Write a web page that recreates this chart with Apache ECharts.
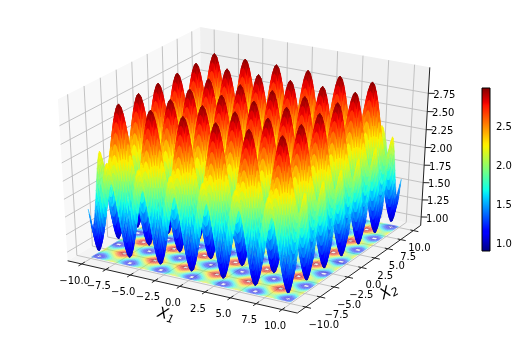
<!DOCTYPE html>
<html><head><meta charset="utf-8"><style>html,body{margin:0;background:#fff}#c{width:519px;height:340px}</style>
<script src="https://cdn.jsdelivr.net/npm/echarts@6/dist/echarts.min.js"></script></head>
<body><div id="c"></div><script>
// Values
const x1Values=[-10,-9.42,-8.64,-7.85,-7.07,-6.28,-5.5,-4.71,-3.93,-3.14,-2.36,-1.57,-0.79,0,0.79,1.57,2.36,3.14,3.93,4.71,5.5,6.28,7.07,7.85,8.64,9.42,10];
const x2Values=x1Values;
const rowEdge  =[1.58,1.28,1.78,2.28,1.78,1.28,1.78,2.28,1.78,1.28,1.78,2.28,1.78,1.28,1.78,2.28,1.78,1.28,1.78,2.28,1.78,1.28,1.78,2.28,1.78,1.28,1.58];
const rowValley=[1.28,0.98,1.48,1.98,1.48,0.98,1.48,1.98,1.48,0.98,1.48,1.98,1.48,0.98,1.48,1.98,1.48,0.98,1.48,1.98,1.48,0.98,1.48,1.98,1.48,0.98,1.28];
const rowSlope =[1.78,1.48,1.98,2.48,1.98,1.48,1.98,2.48,1.98,1.48,1.98,2.48,1.98,1.48,1.98,2.48,1.98,1.48,1.98,2.48,1.98,1.48,1.98,2.48,1.98,1.48,1.78];
const rowCrest =[2.28,1.98,2.48,2.97,2.48,1.98,2.48,2.97,2.48,1.98,2.48,2.97,2.48,1.98,2.48,2.97,2.48,1.98,2.48,2.97,2.48,1.98,2.48,2.97,2.48,1.98,2.28];
const surfaceZ=[rowEdge,rowValley,rowSlope,rowCrest,rowSlope,rowValley,rowSlope,rowCrest,rowSlope,rowValley,rowSlope,rowCrest,rowSlope,rowValley,rowSlope,rowCrest,rowSlope,rowValley,rowSlope,rowCrest,rowSlope,rowValley,rowSlope,rowCrest,rowSlope,rowValley,rowEdge];
const axisTicks=[-10,-7.5,-5,-2.5,0,2.5,5,7.5,10];
const axisTickLabels=['−10.0','−7.5','−5.0','−2.5','0.0','2.5','5.0','7.5','10.0'];
const zTicks=[1,1.25,1.5,1.75,2,2.25,2.5,2.75];
const zTickLabels=['1.00','1.25','1.50','1.75','2.00','2.25','2.50','2.75'];
const cbarTicks=[1,1.5,2,2.5];
const zMin=0.91, zMax=2.97, cbarMin=0.91, cbarMax=3.0;
const jet=[[0,'#00007f'],[0.11,'#0000ff'],[0.125,'#0000ff'],[0.34,'#00dcff'],[0.375,'#0dffea'],[0.5,'#7dff7a'],[0.64,'#f9f500'],[0.66,'#ffea00'],[0.89,'#ff1300'],[0.91,'#ed0000'],[1,'#7f0000']];

// View
const lim={x:[-11,11],y:[-11,11],z:[0.92,3.055]};
const el=30*Math.PI/180, az=-60*Math.PI/180, dist=10;
const sx=2545, sy=1770, cx=247, cy=165;
const n=[Math.cos(el)*Math.cos(az),Math.cos(el)*Math.sin(az),Math.sin(el)];
const u=[-n[1],n[0],0].map(v=>v/Math.hypot(n[0],n[1]));
const v=[n[1]*u[2]-n[2]*u[1],n[2]*u[0]-n[0]*u[2],n[0]*u[1]-n[1]*u[0]];
const dot=(a,b)=>a[0]*b[0]+a[1]*b[1]+a[2]*b[2];
function proj(x,y,z){
  const p=[(x-lim.x[0])/(lim.x[1]-lim.x[0])-.5,(y-lim.y[0])/(lim.y[1]-lim.y[0])-.5,(z-lim.z[0])/(lim.z[1]-lim.z[0])-.5];
  const w=dist-dot(n,p);
  return {pt:[cx+sx*dot(u,p)/w,cy-sy*dot(v,p)/w],depth:dot(n,p)};
}
const P=(x,y,z)=>proj(x,y,z).pt;
const padX=(lim.x[1]-lim.x[0])/48,padZ=(lim.z[1]-lim.z[0])/48;
const X0=lim.x[0]-padX,X1=lim.x[1]+padX,Y0=lim.y[0]-padX,Y1=lim.y[1]+padX,Z0=lim.z[0]-padZ,Z1=lim.z[1]+padZ;

function hex(c){return [parseInt(c.slice(1,3),16),parseInt(c.slice(3,5),16),parseInt(c.slice(5,7),16)];}
function jetColor(t,a){
  t=Math.max(0,Math.min(1,t));let i=0;while(i<jet.length-2&&t>jet[i+1][0])i++;
  const f=(t-jet[i][0])/(jet[i+1][0]-jet[i][0]),A=hex(jet[i][1]),B=hex(jet[i+1][1]);
  return 'rgba('+[0,1,2].map(k=>Math.round(A[k]+(B[k]-A[k])*f)).join(',')+','+a+')';
}
function smooth1D(xs,ys,sub){
  const N=xs.length,m=[];
  for(let i=0;i<N;i++){
    if(i==0||i==N-1){m[i]=(i==0?(ys[1]-ys[0])/(xs[1]-xs[0]):(ys[N-1]-ys[N-2])/(xs[N-1]-xs[N-2]));}
    else m[i]=1.5*(ys[i+1]-ys[i-1])/(xs[i+1]-xs[i-1]);
  }
  const out=[];
  for(let i=0;i<N-1;i++){const h=xs[i+1]-xs[i];
    for(let s=0;s<sub+(i==N-2?1:0);s++){const t=s/sub,t2=t*t,t3=t2*t;
      out.push((2*t3-3*t2+1)*ys[i]+(t3-2*t2+t)*h*m[i]+(-2*t3+3*t2)*ys[i+1]+(t3-t2)*h*m[i+1]);}
  }
  return out;
}
const SUB=5;
const fx=[];for(let i=0;i<x1Values.length-1;i++)for(let s=0;s<SUB+(i==x1Values.length-2?1:0);s++)fx.push(x1Values[i]+(x1Values[i+1]-x1Values[i])*s/SUB);
const fy=fx;
const rowsFine=surfaceZ.map(r=>smooth1D(x2Values,r,SUB));
const Zf=[];
{const cols=rowsFine[0].length;const tmp=[];
 for(let j=0;j<cols;j++){tmp.push(smooth1D(x1Values,rowsFine.map(r=>r[j]),SUB));}
 for(let i=0;i<fx.length;i++){Zf.push(tmp.map(c=>c[i]));}}
const quads=[],floor=[];
const floorZ=Z0+.02;
for(let i=0;i<fx.length-1;i++)for(let j=0;j<fy.length-1;j++){
  const zs=[Zf[i][j],Zf[i+1][j],Zf[i+1][j+1],Zf[i][j+1]];
  const m=(zs[0]+zs[1]+zs[2]+zs[3])/4;
  const a=proj(fx[i],fy[j],zs[0]),b=proj(fx[i+1],fy[j],zs[1]),c=proj(fx[i+1],fy[j+1],zs[2]),d=proj(fx[i],fy[j+1],zs[3]);
  quads.push({p:[a.pt,b.pt,c.pt,d.pt],d:(a.depth+b.depth+c.depth+d.depth)/4,z:m});
  if(m>=1.03&&m<=2.93)floor.push({p:[P(fx[i],fy[j],floorZ),P(fx[i+1],fy[j],floorZ),P(fx[i+1],fy[j+1],floorZ),P(fx[i],fy[j+1],floorZ)],z:m});
}
quads.sort((a,b)=>a.d-b.d);

const scene=[];
const poly=(pts,fill)=>scene.push({t:'poly',pts,fill});
const line=(a,b,c,w)=>scene.push({t:'line',a,b,c,w});
poly([P(X0,Y0,Z0),P(X1,Y0,Z0),P(X1,Y1,Z0),P(X0,Y1,Z0)],'#f4f4f4');
poly([P(X0,Y0,Z0),P(X0,Y1,Z0),P(X0,Y1,Z1),P(X0,Y0,Z1)],'#f8f8f8');
poly([P(X0,Y1,Z0),P(X1,Y1,Z0),P(X1,Y1,Z1),P(X0,Y1,Z1)],'#f0f0f0');
const G='#bcbcbc';
axisTicks.forEach(t=>{
  line(P(t,Y0,Z0),P(t,Y1,Z0),G,.9);line(P(t,Y1,Z0),P(t,Y1,Z1),G,.9);
  line(P(X0,t,Z0),P(X1,t,Z0),G,.9);line(P(X0,t,Z0),P(X0,t,Z1),G,.9);
});
zTicks.forEach(t=>{line(P(X0,Y0,t),P(X0,Y1,t),G,.9);line(P(X0,Y1,t),P(X1,Y1,t),G,.9);});
const over=[];
const line2=(a,b,c,w)=>over.push({t:'line',a,b,c,w});
const text2=(pos,s)=>over.push({t:'text',pos,s});
line2(P(X0,Y0,Z0),P(X1,Y0,Z0),'#222',1);
line2(P(X1,Y0,Z0),P(X1,Y1,Z0),'#222',1);
line2(P(X1,Y1,Z0),P(X1,Y1,Z1),'#222',1);
axisTicks.forEach((t,i)=>{
  line2(P(t,Y0+.5,Z0),P(t,Y0-.5,Z0),'#222',1);
  line2(P(X1-.3,t,Z0),P(X1+.5,t,Z0),'#222',1);
  const a=P(t,Y0,Z0),b=P(X1,t,Z0);
  text2([a[0]-7,a[1]+17],axisTickLabels[i]);
  text2([b[0]+18-i*1.5,b[1]+18],axisTickLabels[i]);
});
zTicks.forEach((t,i)=>{
  line2(P(X1,Y1,t),P(X1+.5,Y1+.25,t),'#222',1);
  const a=P(X1,Y1,t);text2([a[0]+16,a[1]+2],zTickLabels[i]);
});
over.push({t:'rich',pos:[166,315],rot:-0.27,sub:'1'});
over.push({t:'rich',pos:[389,292],rot:0.5,sub:'2'});

function sceneRender(list){return function(params,api){
  const it=list[params.dataIndex];
  if(it.t=='poly')return{type:'polygon',silent:true,shape:{points:it.pts.map(p=>api.coord(p))},style:{fill:it.fill}};
  if(it.t=='line'){const a=api.coord(it.a),b=api.coord(it.b);return{type:'line',silent:true,shape:{x1:a[0],y1:a[1],x2:b[0],y2:b[1]},style:{stroke:it.c,lineWidth:it.w}};}
  const q=api.coord(it.pos);
  if(it.t=='rich')return{type:'text',silent:true,x:q[0],y:q[1],rotation:it.rot,style:{text:'{a|X}{b|'+it.sub+'}',align:'center',verticalAlign:'middle',rich:{a:{fontFamily:'DejaVu Sans',fontStyle:'italic',fontSize:15,fill:'#000'},b:{fontFamily:'DejaVu Sans',fontStyle:'italic',fontSize:11,fill:'#000',padding:[7,0,0,0]}}}};
  return{type:'text',silent:true,x:q[0],y:q[1],style:{text:it.s,align:'center',verticalAlign:'middle',fontFamily:'DejaVu Sans',fontSize:10,fill:'#000'}};
};}
const idx=a=>a.map((_,i)=>[i]);
const base={type:'custom',coordinateSystem:'cartesian2d',xAxisIndex:0,yAxisIndex:0,clip:false,animation:false,silent:true,progressive:0};
const chart=echarts.init(document.getElementById('c'),null,{renderer:'canvas'});
chart.setOption({animation:false,
 grid:[{left:0,top:0,width:519,height:340,show:false},{left:482,top:88,width:8,height:163,show:false}],
 xAxis:[{type:'value',min:0,max:519,show:false,gridIndex:0},{type:'value',min:0,max:1,show:false,gridIndex:1}],
 yAxis:[{type:'value',min:0,max:340,inverse:true,show:false,gridIndex:0},
  {type:'value',gridIndex:1,position:'right',min:cbarMin,max:cbarMax,splitLine:{show:false},axisLine:{show:false},
   axisTick:{show:true,length:3.5,customValues:cbarTicks,lineStyle:{color:'#000'}},
   axisLabel:{show:true,customValues:cbarTicks,formatter:v=>v.toFixed(1),fontFamily:'DejaVu Sans',fontSize:10,color:'#000',margin:6}}],
 series:[
  Object.assign({},base,{z:1,data:idx(scene),renderItem:sceneRender(scene)}),
  Object.assign({},base,{z:2,data:idx(floor),renderItem:(p,api)=>{const f=floor[p.dataIndex];const c=jetColor((f.z-zMin)/(zMax-zMin),.62);return{type:'polygon',silent:true,shape:{points:f.p.map(q=>api.coord(q))},style:{fill:c}};}}),
  Object.assign({},base,{z:3,data:idx(quads),renderItem:(p,api)=>{const f=quads[p.dataIndex];const c=jetColor((f.z-zMin)/(zMax-zMin),1);return{type:'polygon',silent:true,shape:{points:f.p.map(q=>api.coord(q))},style:{fill:c,stroke:c,lineWidth:.4}};}}),
  Object.assign({},base,{z:4,data:idx(over),renderItem:sceneRender(over)}),
  {type:'custom',coordinateSystem:'cartesian2d',xAxisIndex:1,yAxisIndex:1,silent:true,animation:false,data:[[0,cbarMin,1,cbarMax]],
   renderItem:(p,api)=>{const a=api.coord([0,cbarMax]),b=api.coord([1,cbarMin]);
    return{type:'rect',silent:true,shape:{x:a[0],y:a[1],width:b[0]-a[0],height:b[1]-a[1]},style:{stroke:'#000',lineWidth:1,fill:new echarts.graphic.LinearGradient(0,1,0,0,jet.map(s=>({offset:s[0],color:s[1]})))}};}}
 ]});
</script></body></html>
